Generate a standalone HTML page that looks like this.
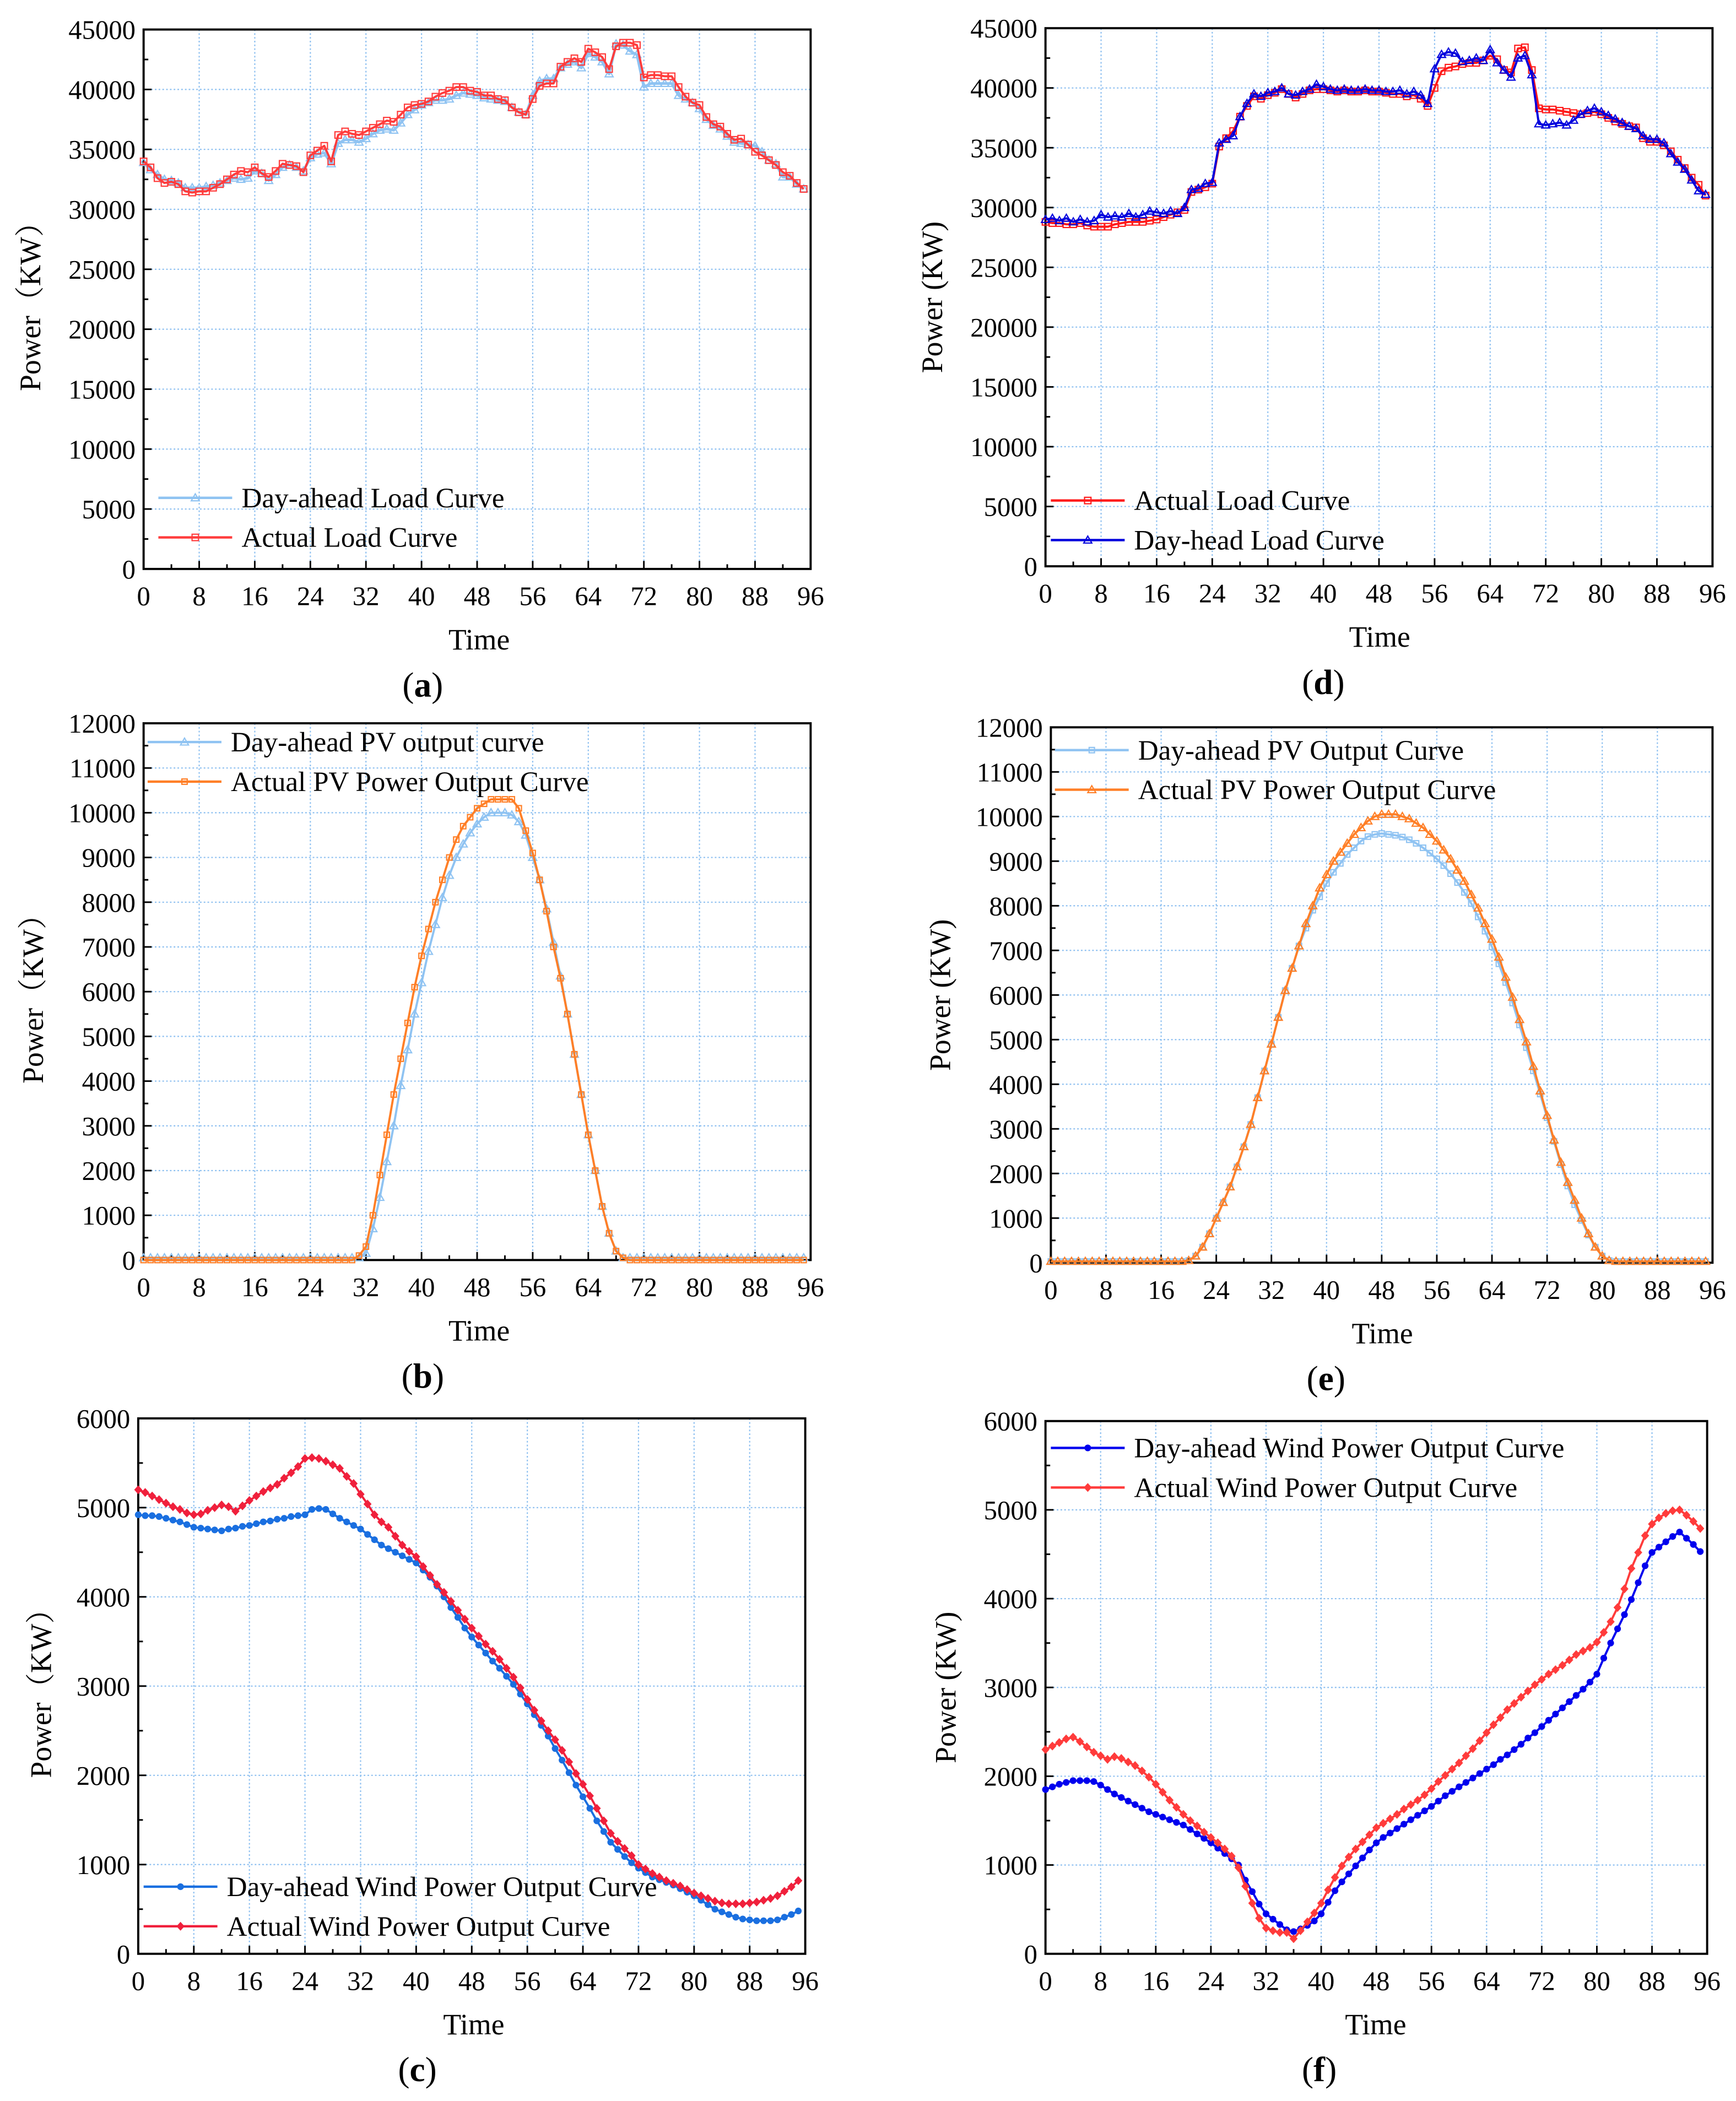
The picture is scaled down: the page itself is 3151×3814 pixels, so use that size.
<!DOCTYPE html>
<html><head><meta charset="utf-8"><style>
html,body{margin:0;padding:0;background:#fff;}
svg{display:block;}
text{font-family:"Liberation Serif","Noto Serif CJK SC",serif;fill:#000;}
</style></head><body>
<svg id="root" xmlns="http://www.w3.org/2000/svg" width="3151" height="3814" viewBox="0 0 1293.5 1565.7" preserveAspectRatio="none"></svg>
<script>
const timeTicks=[0,8,16,24,32,40,48,56,64,72,80,88,96];
const loadTicks=[0,5000,10000,15000,20000,25000,30000,35000,40000,45000];
const pvTicks=[0,1000,2000,3000,4000,5000,6000,7000,8000,9000,10000,11000,12000];
const windTicks=[0,1000,2000,3000,4000,5000,6000];

const aActual=[34000,33500,32600,32200,32300,32100,31500,31400,31500,31500,31800,32100,32500,32900,33200,33100,33500,33000,32700,33200,33800,33700,33600,33100,34500,34900,35300,34000,36200,36500,36300,36200,36500,36800,37100,37400,37300,37900,38500,38700,38800,39000,39400,39700,39900,40200,40200,39900,39800,39500,39500,39200,39100,38500,38100,37900,39200,40300,40500,40500,41900,42300,42600,42300,43400,43100,42700,41700,43600,43900,43900,43700,41000,41200,41200,41100,41100,40200,39400,38900,38700,37700,37100,36900,36300,35800,35900,35400,34800,34500,34100,33700,33100,32800,32200,31700];
const aDayAhead=[33900,33300,32900,32500,32400,32200,31800,31800,31800,31900,32000,32200,32400,32600,32500,32600,33200,33000,32400,32900,33500,33700,33500,33200,34300,34600,34700,33800,35500,35800,35800,35600,35900,36300,36600,36700,36600,37200,37900,38300,38700,38900,39100,39100,39200,39500,39700,39600,39500,39300,39200,39100,39000,38500,38100,37900,39500,40700,40900,40900,41800,42100,42300,41800,43000,42700,42300,41300,43800,43700,43200,42900,40200,40500,40500,40500,40500,39500,39200,38900,38400,37500,37000,36700,36100,35600,35500,35400,35300,34800,34100,33800,32700,32700,32100,31700];
const dActual=[28800,28700,28700,28600,28600,28700,28500,28400,28400,28400,28600,28700,28800,28800,28800,28900,29000,29200,29400,29600,29800,31300,31500,31700,32000,35100,35800,36400,37600,38500,39300,39100,39400,39600,39900,39500,39200,39500,39800,39900,39900,39800,39700,39800,39700,39700,39800,39700,39700,39600,39500,39500,39300,39400,39100,38500,40000,41400,41700,41800,42000,42100,42100,42300,42700,42400,41500,41300,43300,43400,41500,38300,38200,38200,38100,38000,37900,37800,37900,38000,37800,37500,37200,37000,36800,36700,35800,35500,35500,35200,34700,34000,33300,32500,31900,31000];
const dDayAhead=[29000,29100,28900,29100,28800,29000,28800,28900,29400,29200,29300,29200,29500,29200,29400,29700,29600,29500,29700,29500,30000,31500,31600,32000,32100,35400,35700,36000,37600,38700,39500,39300,39600,39700,40000,39500,39400,39700,39900,40300,40100,39900,39800,39900,39800,39800,39900,39800,39800,39700,39700,39800,39500,39700,39400,38700,41600,42800,43000,42900,42200,42300,42500,42300,43200,42100,41500,40900,42500,42700,41100,37000,36900,37000,37100,36900,37300,37800,38100,38300,38000,37700,37400,37100,36800,36600,36000,35700,35700,35400,34500,33800,33200,32300,31400,31100];
const bDayAhead=[50,50,50,50,50,50,50,50,50,50,50,50,50,50,50,50,50,50,50,50,50,50,50,50,50,50,50,50,50,50,50,50,150,700,1400,2200,3000,3900,4700,5500,6200,6900,7500,8100,8600,9000,9300,9550,9750,9900,10000,10000,10000,9950,9800,9500,9000,8500,7850,7100,6350,5500,4600,3700,2800,2000,1200,600,200,50,50,50,50,50,50,50,50,50,50,50,50,50,50,50,50,50,50,50,50,50,50,50,50,50,50,50];
const bActual=[0,0,0,0,0,0,0,0,0,0,0,0,0,0,0,0,0,0,0,0,0,0,0,0,0,0,0,0,0,0,0,100,300,1000,1900,2800,3700,4500,5300,6100,6800,7400,8000,8500,9000,9400,9700,9900,10100,10200,10300,10300,10300,10300,10100,9600,9100,8500,7800,7000,6300,5500,4600,3700,2800,2000,1200,600,200,50,0,0,0,0,0,0,0,0,0,0,0,0,0,0,0,0,0,0,0,0,0,0,0,0,0,0];
const eDayAhead=[30,30,30,30,30,30,30,30,30,30,30,30,30,30,30,30,30,30,30,30,50,150,350,650,1000,1350,1700,2150,2600,3100,3700,4300,4900,5500,6100,6600,7100,7500,7900,8200,8500,8750,8950,9150,9300,9450,9550,9600,9620,9600,9580,9540,9480,9400,9300,9180,9050,8900,8720,8520,8300,8050,7750,7430,7080,6700,6280,5820,5330,4820,4300,3780,3250,2720,2200,1720,1300,950,620,350,150,50,30,30,30,30,30,30,30,30,30,30,30,30,30,30];
const eActual=[30,30,30,30,30,30,30,30,30,30,30,30,30,30,30,30,30,30,30,30,50,150,350,650,1000,1350,1700,2150,2600,3100,3700,4300,4900,5500,6100,6600,7100,7600,8000,8400,8700,9000,9200,9400,9600,9750,9900,10000,10050,10050,10050,10000,9950,9850,9750,9600,9450,9250,9050,8800,8550,8250,7950,7600,7250,6850,6400,5950,5450,4950,4400,3850,3300,2750,2250,1800,1400,1000,650,350,150,50,30,30,30,30,30,30,30,30,30,30,30,30,30,30];
const cDayAhead=[4920,4910,4910,4900,4880,4860,4840,4810,4780,4770,4760,4750,4740,4760,4770,4790,4800,4820,4840,4850,4870,4880,4900,4910,4920,4980,4990,4980,4930,4880,4840,4800,4760,4700,4640,4580,4540,4500,4460,4420,4380,4300,4220,4120,4000,3880,3770,3650,3550,3460,3370,3280,3200,3110,3020,2910,2800,2680,2560,2440,2300,2170,2030,1890,1760,1630,1490,1370,1250,1170,1090,1020,960,910,860,830,800,770,730,690,650,600,550,500,470,440,410,390,380,370,370,370,380,410,440,480];
const cActual=[5200,5170,5130,5090,5050,5010,4980,4940,4920,4930,4970,5000,5030,5010,4960,5020,5080,5130,5180,5220,5260,5330,5390,5460,5550,5560,5550,5520,5480,5440,5350,5270,5150,5040,4920,4840,4780,4680,4580,4510,4450,4340,4240,4140,4050,3950,3850,3750,3650,3560,3470,3390,3300,3200,3100,2980,2850,2730,2610,2500,2400,2280,2150,2020,1900,1770,1630,1490,1350,1260,1180,1100,1000,950,900,860,820,790,760,720,680,650,620,590,570,560,560,560,570,580,600,620,650,700,750,820];
const fDayAhead=[1850,1880,1910,1930,1950,1950,1950,1940,1900,1850,1800,1760,1720,1680,1640,1600,1570,1540,1510,1480,1450,1400,1350,1300,1250,1190,1130,1070,1000,830,700,560,450,390,330,270,250,280,320,370,450,580,710,810,900,990,1080,1170,1250,1310,1360,1410,1460,1510,1560,1610,1660,1720,1780,1830,1880,1930,1980,2030,2080,2130,2190,2240,2300,2360,2430,2490,2560,2630,2700,2770,2840,2910,2980,3060,3150,3330,3500,3660,3820,3990,4180,4370,4520,4580,4640,4700,4750,4680,4610,4530];
const fActual=[2300,2340,2380,2420,2440,2390,2330,2270,2230,2190,2220,2200,2160,2120,2060,1990,1910,1820,1730,1650,1570,1500,1440,1370,1310,1250,1180,1100,970,760,570,400,290,260,240,240,170,260,360,460,570,720,860,990,1090,1180,1260,1340,1420,1470,1520,1570,1630,1680,1730,1790,1860,1940,2010,2080,2150,2230,2310,2400,2490,2580,2660,2750,2820,2890,2960,3030,3090,3150,3200,3250,3310,3370,3410,3450,3510,3620,3740,3900,4110,4340,4520,4710,4840,4910,4960,4990,5000,4940,4870,4790];

const NS='http://www.w3.org/2000/svg';
const root=document.getElementById('root');
function mk(tag,attrs,parent){const e=document.createElementNS(NS,tag);for(const k in attrs)e.setAttribute(k,attrs[k]);parent.appendChild(e);return e;}

function marker(g,shape,x,y,color){
  let e;
  if(shape==='tri'){e=mk('polygon',{points:`${x},${y-3} ${x-3},${y+2.2} ${x+3},${y+2.2}`,fill:'none',stroke:color,'stroke-width':0.9},g);}
  else if(shape==='sq'){e=mk('rect',{x:x-2.4,y:y-2.4,width:4.8,height:4.8,fill:'none',stroke:color,'stroke-width':0.9},g);}
  else if(shape==='sqf'){e=mk('rect',{x:x-2,y:y-2,width:4,height:4,fill:'none',stroke:color,'stroke-width':0.9},g);}
  else if(shape==='circ'){e=mk('circle',{cx:x,cy:y,r:2.5,fill:color},g);}
  else if(shape==='dia'){e=mk('polygon',{points:`${x},${y-3.3} ${x+3},${y} ${x},${y+3.3} ${x-3},${y}`,fill:color},g);}
  
  
}

function panel(p){
  const g=mk('g',{},root);
  
  
  const L=p.x0,R=p.x1,T=p.y0,B=p.y1;
  const ymax=p.yTicks[p.yTicks.length-1];
  const sx=v=>L+(R-L)*v/96;
  const sy=v=>B-(B-T)*v/ymax;
  const grid=mk('g',{},g);
  
  
  timeTicks.forEach(t=>{if(t>0&&t<96)mk('line',{x1:sx(t),x2:sx(t),y1:T,y2:B,stroke:'#8cbff0','stroke-width':0.9,'stroke-dasharray':'1.2,1.6'},grid);});
  p.yTicks.forEach(t=>{if(t>0&&t<ymax)mk('line',{x1:L,x2:R,y1:sy(t),y2:sy(t),stroke:'#8cbff0','stroke-width':0.9,'stroke-dasharray':'1.2,1.6'},grid);});
  const ax=mk('g',{},g);
  
  
  timeTicks.forEach((t,i)=>{
    mk('line',{x1:sx(t),x2:sx(t),y1:B,y2:B-6,stroke:'#000','stroke-width':1.2},ax);
    if(i<timeTicks.length-1){const m=(t+timeTicks[i+1])/2;mk('line',{x1:sx(m),x2:sx(m),y1:B,y2:B-3.5,stroke:'#000','stroke-width':1.2},ax);}
    const tx=mk('text',{x:sx(t),y:B+27,'font-size':20,'text-anchor':'middle'},ax);
    tx.textContent=t;
    
    
  });
  p.yTicks.forEach((t,i)=>{
    mk('line',{x1:L,x2:L+6,y1:sy(t),y2:sy(t),stroke:'#000','stroke-width':1.2},ax);
    if(i<p.yTicks.length-1){const m=(t+p.yTicks[i+1])/2;mk('line',{x1:L,x2:L+3.5,y1:sy(m),y2:sy(m),stroke:'#000','stroke-width':1.2},ax);}
    const tx=mk('text',{x:L-6,y:sy(t)+7,'font-size':20,'text-anchor':'end'},ax);
    tx.textContent=t;
    
    
  });
  p.series.forEach(s=>{
    const sg=mk('g',{},g);
    
    
    const pts=s.data.map((v,i)=>sx(i)+','+sy(v)).join(' ');
    const pl=mk('polyline',{points:pts,fill:'none',stroke:s.color,'stroke-width':s.w||1.6,'stroke-linejoin':'round'},sg);
    
    
    s.data.forEach((v,i)=>marker(sg,s.shape,sx(i),sy(v),s.color));
  });
  mk('rect',{x:L,y:T,width:R-L,height:B-T,fill:'none',stroke:'#000','stroke-width':1.6},ax);
  const lg=mk('g',{},g);
  
  
  p.legend.forEach((e,i)=>{
    const s=p.series[e.si];
    const y=p.ly+i*29.5;
    const eg=mk('g',{},lg);
    
    
    mk('line',{x1:p.lx,x2:p.lx+55,y1:y,y2:y,stroke:s.color,'stroke-width':1.8},eg);
    marker(eg,s.shape,p.lx+27.5,y,s.color);
    const tx=mk('text',{x:p.lx+62,y:y+7,'font-size':21},eg);
    tx.textContent=e.label;
  });
  const xt=mk('text',{x:p.tx,y:B+60,'font-size':22,'text-anchor':'middle'},g);
  xt.textContent='Time';
  
  
  const yt=mk('text',{x:0,y:0,'font-size':22,'text-anchor':'middle',transform:`translate(${p.ylx},${(T+B)/2}) rotate(-90)`},g);
  yt.textContent=p.ylabel;
  
  
  const cap=mk('text',{x:p.tx-42,y:B+95,'font-size':26,'text-anchor':'middle'},g);
  cap.innerHTML='(<tspan font-weight="bold">'+p.id+'</tspan>)';
  
  
}

const LB='#8fc3f2', RD='#ff3c3c', OR='#ff7f27';
panel({id:'a',x0:107,x1:604,y0:22,y1:424,yTicks:loadTicks,ylabel:'Power（KW）',ylx:30,tx:357,lx:118,ly:371,
  series:[{name:'day-ahead-load',data:aDayAhead,color:LB,shape:'tri',w:2},{name:'actual-load',data:aActual,color:RD,shape:'sq'}],
  legend:[{si:0,label:'Day-ahead Load Curve'},{si:1,label:'Actual Load Curve'}]});
panel({id:'d',x0:779,x1:1276,y0:21,y1:422,yTicks:loadTicks,ylabel:'Power (KW)',ylx:702,tx:1028,lx:783,ly:373,
  series:[{name:'actual-load',data:dActual,color:'#ff1a1a',shape:'sq'},{name:'day-ahead-load',data:dDayAhead,color:'#0000dd',shape:'tri'}],
  legend:[{si:0,label:'Actual Load Curve'},{si:1,label:'Day-head Load Curve'}]});
panel({id:'b',x0:107,x1:604,y0:539,y1:939,yTicks:pvTicks,ylabel:'Power（KW）',ylx:32,tx:357,lx:110,ly:553,
  series:[{name:'day-ahead-pv',data:bDayAhead,color:LB,shape:'tri'},{name:'actual-pv',data:bActual,color:OR,shape:'sqf'}],
  legend:[{si:0,label:'Day-ahead PV output curve'},{si:1,label:'Actual PV Power Output Curve'}]});
panel({id:'e',x0:783,x1:1276,y0:542,y1:941,yTicks:pvTicks,ylabel:'Power (KW)',ylx:708,tx:1030,lx:786,ly:559,
  series:[{name:'day-ahead-pv',data:eDayAhead,color:LB,shape:'sqf'},{name:'actual-pv',data:eActual,color:OR,shape:'tri'}],
  legend:[{si:0,label:'Day-ahead PV Output Curve'},{si:1,label:'Actual PV Power Output Curve'}]});
panel({id:'c',x0:103,x1:600,y0:1057,y1:1456,yTicks:windTicks,ylabel:'Power（KW）',ylx:38,tx:353,lx:107,ly:1406,
  series:[{name:'day-ahead-wind',data:cDayAhead,color:'#1a6fe0',shape:'circ'},{name:'actual-wind',data:cActual,color:'#f0203c',shape:'dia'}],
  legend:[{si:0,label:'Day-ahead Wind Power Output Curve'},{si:1,label:'Actual Wind Power Output Curve'}]});
panel({id:'f',x0:779,x1:1272,y0:1059,y1:1456,yTicks:windTicks,ylabel:'Power (KW)',ylx:712,tx:1025,lx:783,ly:1079,
  series:[{name:'day-ahead-wind',data:fDayAhead,color:'#0000ee',shape:'circ'},{name:'actual-wind',data:fActual,color:'#ff3b3b',shape:'dia'}],
  legend:[{si:0,label:'Day-ahead Wind Power Output Curve'},{si:1,label:'Actual Wind Power Output Curve'}]});
</script>
</body></html>
